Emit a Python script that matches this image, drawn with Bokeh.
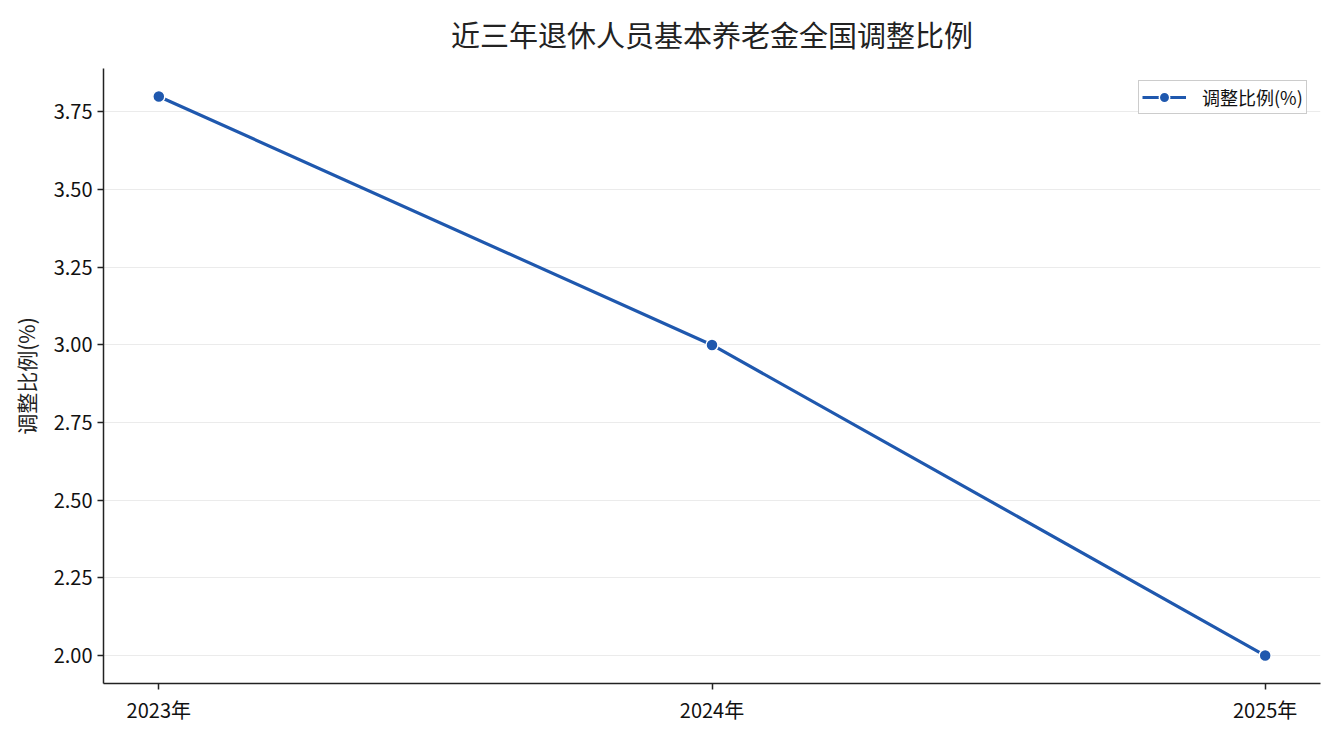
from bokeh.plotting import figure
from bokeh.models import FixedTicker, ColumnDataSource, Legend, LegendItem
from bokeh.embed import file_html
from bokeh.resources import INLINE

years = [2023, 2024, 2025]
year_labels = ["2023年", "2024年", "2025年"]
ratios = [3.8, 3.0, 2.0]
y_ticks = [2.0, 2.25, 2.5, 2.75, 3.0, 3.25, 3.5, 3.75]
title_text = "近三年退休人员基本养老金全国调整比例"

FONT = "Noto Sans CJK SC"
COLOR = "#1f58ae"
FW, FH = 1217, 615

src = ColumnDataSource(dict(x=years, y=ratios))

p = figure(
    frame_width=FW, frame_height=FH,
    x_range=(2022.9, 2025.1), y_range=(1.91, 3.89),
    output_backend="svg", toolbar_location=None,
    min_border_left=103, min_border_right=7, min_border_top=0, min_border_bottom=44,
)
p.title.text = title_text
p.title.text_font = FONT
p.title.text_font_size = "29px"
p.title.text_font_style = "normal"
p.title.text_color = "#222222"
p.title.align = "center"
p.title.vertical_align = "top"
p.title.text_line_height = 0.6
p.title.standoff = 24

p.outline_line_color = None
p.xgrid.grid_line_color = None
p.ygrid.grid_line_color = "#ebebeb"
p.ygrid.grid_line_width = 1

for ax in (p.xaxis, p.yaxis):
    ax.axis_line_color = "#222222"
    ax.axis_line_width = 1.5
    ax.major_tick_line_color = "#222222"
    ax.major_tick_line_width = 1.5
    ax.major_tick_out = 6
    ax.major_tick_in = 0
    ax.minor_tick_line_color = None
    ax.major_label_text_font = FONT
    ax.major_label_text_font_size = "20px"
    ax.major_label_text_color = "#111111"

p.xaxis.ticker = FixedTicker(ticks=years)
p.xaxis.major_label_overrides = {y: l for y, l in zip(years, year_labels)}
p.yaxis.ticker = FixedTicker(ticks=y_ticks)
p.yaxis.major_label_overrides = {t: f"{t:.2f}" for t in y_ticks}
p.yaxis.axis_label = "调整比例(%)"
p.yaxis.axis_label_text_font = FONT
p.yaxis.axis_label_text_font_size = "21px"
p.yaxis.axis_label_text_font_style = "normal"
p.yaxis.axis_label_text_color = "#222222"
p.yaxis.axis_label_standoff = 10

ln = p.line("x", "y", source=src, line_color=COLOR, line_width=3.2)
sc = p.scatter("x", "y", source=src, size=12, fill_color=COLOR, line_color="white", line_width=1.5)

legend = Legend(items=[LegendItem(label="调整比例(%)", renderers=[ln, sc])],
                location=(FW - 9 - 173, FH - 14 - 32))
legend.label_text_font = FONT
legend.label_text_font_size = "18px"
legend.label_text_color = "#111111"
legend.border_line_color = "#cccccc"
legend.border_line_width = 1.5
legend.border_line_alpha = 1
legend.background_fill_alpha = 0.9
legend.glyph_width = 44
legend.glyph_height = 26
legend.padding = 3
legend.margin = 0
legend.label_standoff = 16
legend.spacing = 0
p.add_layout(legend)

open("out.html", "w").write(file_html(p, INLINE))
